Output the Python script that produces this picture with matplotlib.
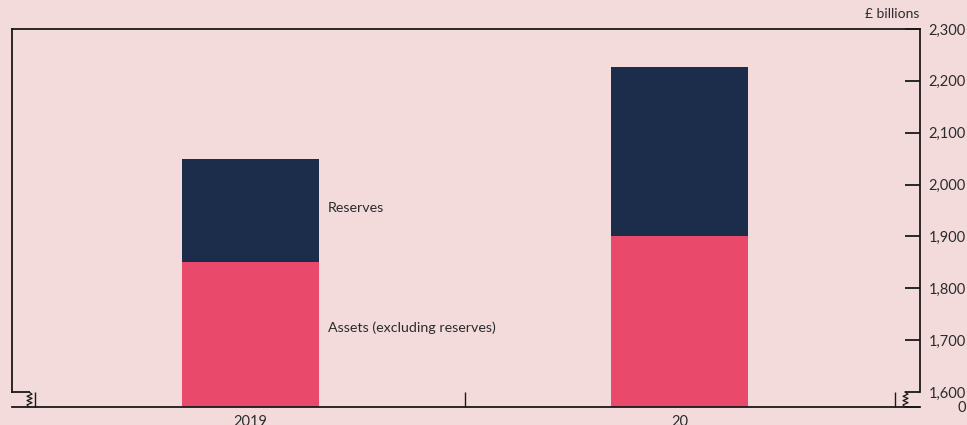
import matplotlib
matplotlib.use("Agg")
import matplotlib.pyplot as plt
import numpy as np

# ---- data ----
categories = ["2019", "20"]
assets = [1850, 1900]          # £ billions, assets excluding reserves
reserves = [200, 327]          # £ billions
ytick_vals = [1600, 1700, 1800, 1900, 2000, 2100, 2200, 2300]
ytick_labels = ["1,600", "1,700", "1,800", "1,900", "2,000", "2,100", "2,200", "2,300"]

# ---- style ----
bg = "#F3DBDC"
navy = "#1B2D4A"
pink = "#E9496B"
ink = "#1a1a1a"
txt = "#2b2b2b"
plt.rcParams["font.family"] = ["Lato", "DejaVu Sans"]

W, H = 967, 425
fig = plt.figure(figsize=(W / 100, H / 100), dpi=100, facecolor=bg)
ax_l, ax_r, ax_t, ax_b = 12, 920, 29, 407
ax = fig.add_axes([ax_l / W, (H - ax_b) / H, (ax_r - ax_l) / W, (ax_b - ax_t) / H])
ax.set_facecolor(bg)

px_per_100 = (392 - ax_t) / 7.0
ymin = 1600 - 100 * (ax_b - 392) / px_per_100
ax.set_ylim(ymin, 2300)
xunit = 430.0
xl = -0.5 - (35 - ax_l) / xunit
xr = xl + (ax_r - ax_l) / xunit
ax.set_xlim(xl, xr)

x = np.arange(len(categories))
bw = 137 / xunit
assets_arr = np.array(assets, float)
ax.bar(x, assets_arr - ymin, bottom=ymin, width=bw, color=pink, zorder=2)
ax.bar(x, reserves, bottom=assets_arr, width=bw, color=navy, zorder=2)

lw = 1.3
for s in ["left", "right", "top", "bottom"]:
    ax.spines[s].set_color(ink)
    ax.spines[s].set_linewidth(lw)
ax.spines["left"].set_bounds(1600, 2300)
ax.spines["right"].set_bounds(1600, 2300)

# y ticks on the right
ax.yaxis.tick_right()
ax.set_yticks(ytick_vals + [ymin])
ax.set_yticklabels(ytick_labels + ["0"])
ax.tick_params(axis="y", direction="in", length=15 * 0.72, width=lw, color=ink,
               pad=33, labelsize=10.5, labelcolor=txt)
for lab in ax.get_yticklabels():
    lab.set_horizontalalignment("right")

# x ticks: separators (major) and category labels (minor)
ax.set_xticks([-0.5, 0.5, 1.5])
ax.set_xticklabels([])
ax.tick_params(axis="x", which="major", direction="in", length=15 * 0.72, width=1.0, color=ink)
ax.set_xticks(x, minor=True)
ax.set_xticklabels(categories, minor=True)
ax.tick_params(axis="x", which="minor", length=0, pad=6, labelsize=10.5, labelcolor=txt)

# axis-break stubs and zigzags
def px2x(p):
    return xl + (p - ax_l) / xunit

ax.plot([px2x(ax_l), px2x(29)], [1600, 1600], color=ink, lw=lw, clip_on=False, zorder=3)

def zigzag(xc):
    ys = np.linspace(1600, ymin, 8)
    xs = [px2x(xc + (3 if i % 2 else -2)) for i in range(len(ys))]
    xs[0] = px2x(xc)
    xs[-1] = px2x(xc)
    ax.plot(xs, ys, color=ink, lw=0.9, clip_on=False, zorder=3)

zigzag(29)
zigzag(905)

# labels
ax.text(px2x(328), 1600 + (392 - 208) / px_per_100 * 100, "Reserves",
        ha="left", va="center", fontsize=10.3, color=txt)
ax.text(px2x(328), 1600 + (392 - 328) / px_per_100 * 100, "Assets (excluding reserves)",
        ha="left", va="center", fontsize=10.3, color=txt)
fig.text(919 / W, 1 - 14 / H, "£ billions", ha="right", va="center", fontsize=10, color=txt)

fig.savefig("out.png", dpi=100, facecolor=bg)
